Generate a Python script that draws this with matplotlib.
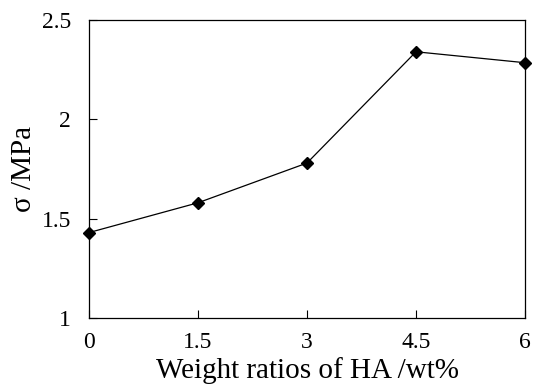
import matplotlib
matplotlib.use("Agg")
import matplotlib.pyplot as plt

ha_ratio = [0, 1.5, 3, 4.5, 6]
sigma = [1.43, 1.58, 1.78, 2.34, 2.285]
xtick_labels = ["0", "1.5", "3", "4.5", "6"]
yticks = [1, 1.5, 2, 2.5]

plt.rcParams['font.family'] = ['Liberation Serif', 'DejaVu Serif']

fig = plt.figure(figsize=(5.33, 3.92), dpi=100)
ax = fig.add_axes([89 / 533, 1 - 318 / 392, (525 - 89) / 533, (318 - 20) / 392])

ax.plot(ha_ratio, sigma, color='black', linewidth=0.9, marker='D',
        markersize=6, clip_on=False, zorder=3)

ax.set_xlim(0, 6)
ax.set_ylim(1, 2.5)
ax.set_xticks(ha_ratio)
ax.set_xticklabels(xtick_labels)
ax.set_yticks(yticks)
ax.set_yticklabels(["1", "1.5", "2", "2.5"])
ax.tick_params(direction='in', length=6, width=0.8, labelsize=17)
ax.tick_params(axis='x', pad=10)
ax.tick_params(axis='y', pad=13)

for s in ax.spines.values():
    s.set_linewidth(0.9)

ax.set_xlabel("Weight ratios of HA /wt%", fontsize=21, labelpad=3)
ax.set_ylabel("σ /MPa", fontsize=21, labelpad=3)

fig.savefig("out.png", dpi=100)
